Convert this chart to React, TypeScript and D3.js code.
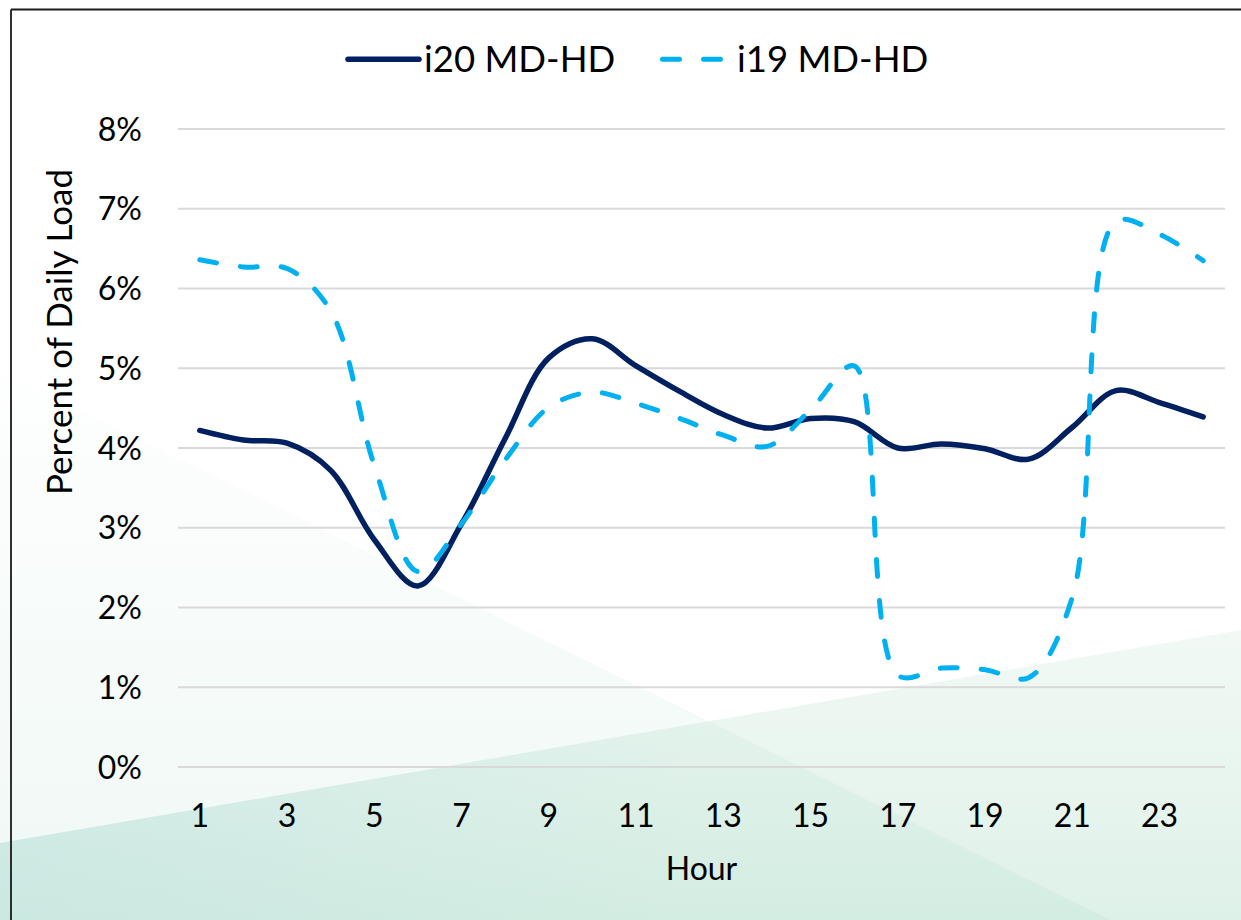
import React from "react";
import * as d3 from "d3";

// Hourly load profile, percent of daily load
const hours = [1, 2, 3, 4, 5, 6, 7, 8, 9, 10, 11, 12, 13, 14, 15, 16, 17, 18, 19, 20, 21, 22, 23, 24];
const i20Values = [4.22, 4.10, 4.06, 3.72, 2.85, 2.27, 3.05, 4.12, 5.13, 5.37, 5.03, 4.71, 4.42, 4.25, 4.37, 4.33, 4.0, 4.05, 3.99, 3.86, 4.26, 4.72, 4.57, 4.39];
const i19Values = [6.36, 6.27, 6.25, 5.72, 3.78, 2.45, 3.05, 3.85, 4.51, 4.7, 4.56, 4.37, 4.16, 4.02, 4.48, 5.03, 1.15, 1.24, 1.22, 1.12, 2.13, 6.84, 6.68, 6.35];
const yTicks = [0, 1, 2, 3, 4, 5, 6, 7, 8];
const xTickLabels = [1, 3, 5, 7, 9, 11, 13, 15, 17, 19, 21, 23];
const seriesNames = ["i20 MD-HD", "i19 MD-HD"];

const W = 1241;
const H = 920;
const FONT = "Lato, 'Open Sans', sans-serif";
const DARK = "#002060";
const LIGHT = "#00b0f0";

export default function App() {
  const x = d3.scaleBand<number>().domain(hours).range([178, 1225]);
  const xc = (h: number) => (x(h) as number) + x.bandwidth() / 2;
  const y = d3.scaleLinear().domain([0, 8]).range([767, 129]);

  const line = d3
    .line<number>()
    .x((_, i) => xc(hours[i]))
    .y((v) => y(v))
    .curve(d3.curveCatmullRom.alpha(0.5));

  return (
    <svg
      width={W}
      height={H}
      style={{ position: "absolute", left: 0, top: 0, display: "block" }}
      fontFamily={FONT}
    >
      <defs>
        <linearGradient id="bgBase" x1="0" y1="630" x2="0" y2="920" gradientUnits="userSpaceOnUse">
          <stop offset="0" stopColor="#f2f9f5" />
          <stop offset="1" stopColor="#def1e8" />
        </linearGradient>
        <linearGradient id="bgBlue" x1="0" y1="0" x2="700" y2="0" gradientUnits="userSpaceOnUse">
          <stop offset="0" stopColor="#bee1e6" stopOpacity="0.35" />
          <stop offset="1" stopColor="#bee1e6" stopOpacity="0" />
        </linearGradient>
        <linearGradient id="bgDiag" x1="0" y1="330" x2="0" y2="920" gradientUnits="userSpaceOnUse">
          <stop offset="0" stopColor="#a0d7c3" stopOpacity="0" />
          <stop offset="1" stopColor="#a0d7c3" stopOpacity="0.17" />
        </linearGradient>
      </defs>
      <rect x={0} y={0} width={W} height={H} fill="#ffffff" />
      <polygon points="0,843 1241,630 1241,920 0,920" fill="url(#bgBase)" />
      <polygon points="0,843 1241,630 1241,920 0,920" fill="url(#bgBlue)" />
      <polygon points="0,370 1110,920 0,920" fill="url(#bgDiag)" />

      {/* chart frame */}
      <line x1={11} y1={9.5} x2={W} y2={9.5} stroke="#1a1a1a" strokeWidth={1.8} />
      <line x1={11} y1={9.5} x2={11} y2={H} stroke="#1a1a1a" strokeWidth={1.8} />

      {/* gridlines and y labels */}
      {yTicks.map((t) => (
        <g key={t}>
          <line x1={178} x2={1225} y1={y(t)} y2={y(t)} stroke="#d9d9d9" strokeWidth={2} />
          <text x={142} y={y(t) + 11.5} textAnchor="end" fontSize={32} fill="#000">
            {t}%
          </text>
        </g>
      ))}

      {/* x labels */}
      {xTickLabels.map((h) => (
        <text key={h} x={xc(h)} y={827} textAnchor="middle" fontSize={32} fill="#000">
          {h}
        </text>
      ))}

      <text x={701.5} y={880} textAnchor="middle" fontSize={32} fill="#000">
        Hour
      </text>
      <text transform="translate(72,332) rotate(-90)" textAnchor="middle" fontSize={35} fill="#000">
        Percent of Daily Load
      </text>

      {/* series */}
      <path d={line(i20Values) || ""} fill="none" stroke={DARK} strokeWidth={5.5} strokeLinecap="round" strokeLinejoin="round" />
      <path
        d={line(i19Values) || ""}
        fill="none"
        stroke={LIGHT}
        strokeWidth={5}
        strokeDasharray="17 24"
        strokeLinecap="round"
        strokeLinejoin="round"
      />

      {/* legend */}
      <line x1={348} x2={419} y1={59.3} y2={59.3} stroke={DARK} strokeWidth={5.5} strokeLinecap="round" />
      <text x={424} y={72} fontSize={36.5} fill="#000">
        {seriesNames[0]}
      </text>
      <line x1={662.5} x2={721} y1={59.3} y2={59.3} stroke={LIGHT} strokeWidth={5} strokeDasharray="17 24" strokeLinecap="round" />
      <text x={737} y={72} fontSize={36.5} fill="#000">
        {seriesNames[1]}
      </text>
    </svg>
  );
}
